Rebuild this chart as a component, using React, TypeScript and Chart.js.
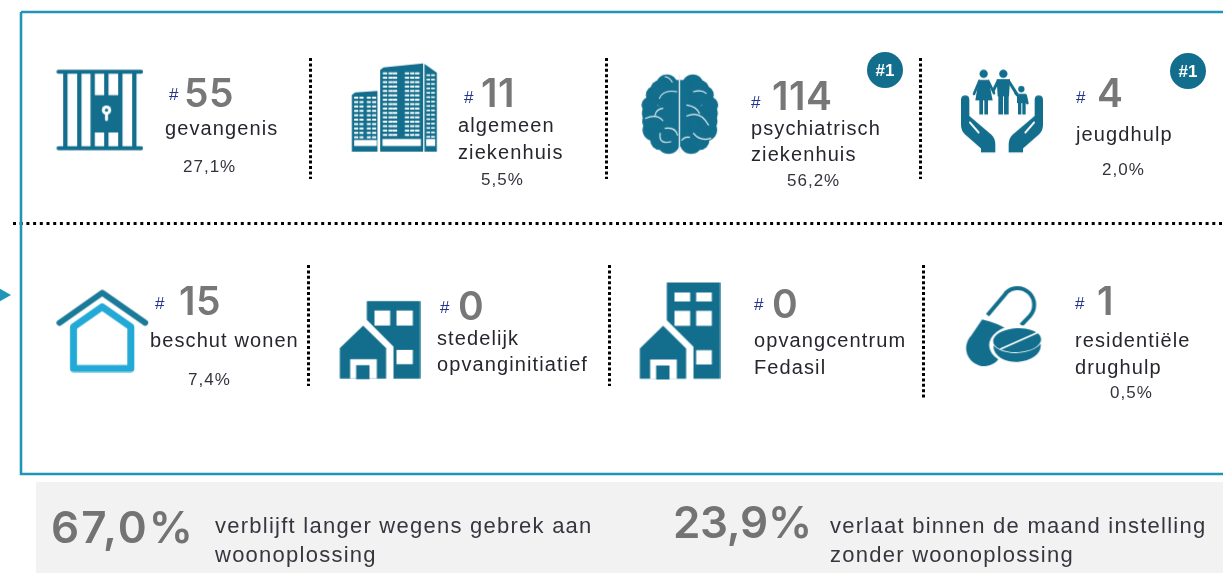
import React, { useEffect, useRef } from "react";
import { Chart, registerables } from "chart.js";

Chart.register(...registerables);

// ---- data ----
const categories: string[][] = [
  ["gevangenis"],
  ["algemeen", "ziekenhuis"],
  ["psychiatrisch", "ziekenhuis"],
  ["jeugdhulp"],
  ["beschut wonen"],
  ["stedelijk", "opvanginitiatief"],
  ["opvangcentrum", "Fedasil"],
  ["residentiële", "drughulp"],
];
const counts = [55, 11, 114, 4, 15, 0, 0, 1];
const shares = ["27,1%", "5,5%", "56,2%", "2,0%", "7,4%", "", "", "0,5%"];
const rankBadge = "#1";
const summaryValues = ["67,0%", "23,9%"];
const summaryTexts: string[][] = [
  ["verblijft langer wegens gebrek aan", "woonoplossing"],
  ["verlaat binnen de maand instelling", "zonder woonoplossing"],
];

// ---- layout, kept apart from the data ----
const hashX = [169, 464, 751, 1076, 155, 440, 754, 1075];
const hashY = [100, 103, 108, 103, 309, 313, 310, 309];
const numX = [184, 481, 772, 1097, 179, 458, 772, 1097];
const numY = [107, 107, 110, 107, 315, 320, 318, 315];
const labelX = [165, 458, 751, 1076, 150, 437, 754, 1075];
const labelY = [135, 132, 135, 141, 347, 345, 347, 347];
const labelGap = [0, 27, 26, 0, 0, 26, 27, 27];
const shareX = [183, 481, 787, 1102, 188, 0, 0, 1110];
const shareY = [172, 185, 186, 175, 385, 0, 0, 398];
const badgePos = [{ x: 885, y: 70 }, { x: 1188, y: 71 }];
const summaryValueX = [51, 673];
const summaryValueY = [543, 538];
const summaryValueSpacing = [2, -0.3];
const summaryTextX = [215, 830];
const dotted = [
  [[13, 223.5], [1223, 223.5]],
  [[310.5, 58], [310.5, 179]],
  [[606.5, 58], [606.5, 179]],
  [[920.5, 58], [920.5, 179]],
  [[308.5, 265], [308.5, 386]],
  [[609.5, 265], [609.5, 386]],
  [[923.5, 265], [923.5, 400]],
];
const frame = [[21, 12], [1240, 12], [1240, 474], [21, 474], [21, 12]];

const TEAL = "#126e8c";

// icons are painted in the coordinates of a 3x enlargement of their region
type Painter = (c: CanvasRenderingContext2D) => void;
function line(c: CanvasRenderingContext2D, pts: number[][], w: number, color: string, close = false) {
  c.beginPath();
  pts.forEach((p, i) => (i ? c.lineTo(p[0], p[1]) : c.moveTo(p[0], p[1])));
  if (close) c.closePath();
  c.lineWidth = w;
  c.strokeStyle = color;
  c.lineCap = "round";
  c.lineJoin = "round";
  c.stroke();
}
function poly(c: CanvasRenderingContext2D, pts: number[][], color: string) {
  c.beginPath();
  pts.forEach((p, i) => (i ? c.lineTo(p[0], p[1]) : c.moveTo(p[0], p[1])));
  c.closePath();
  c.fillStyle = color;
  c.fill();
}
function disc(c: CanvasRenderingContext2D, x: number, y: number, r: number, color: string) {
  c.beginPath();
  c.arc(x, y, r, 0, Math.PI * 2);
  c.fillStyle = color;
  c.fill();
}
function curve(c: CanvasRenderingContext2D, a: number[], b: number[], d: number[], w = 3.5) {
  c.beginPath();
  c.moveTo(a[0], a[1]);
  c.quadraticCurveTo(b[0], b[1], d[0], d[1]);
  c.lineWidth = w;
  c.lineCap = "round";
  c.strokeStyle = "#e8f1f4";
  c.stroke();
}

const prison: Painter = (c) => {
  c.fillStyle = TEAL;
  [189, 231, 271, 312, 354, 396].forEach((x) => c.fillRect(x, 215, 13, 229));
  c.fillRect(277, 285, 83, 112);
  line(c, [[175, 215], [423, 215]], 12, TEAL);
  line(c, [[175, 444], [423, 444]], 12, TEAL);
  disc(c, 319, 330, 14, "#fff");
  line(c, [[319, 335], [319, 358]], 9, "#fff");
  disc(c, 319, 330, 5, TEAL);
};

const building: Painter = (c) => {
  poly(c, [[95, 165], [105, 157], [172, 153], [172, 335], [95, 335]], TEAL);
  poly(c, [[180, 90], [190, 82], [309, 70], [309, 335], [180, 335]], TEAL);
  poly(c, [[313, 72], [350, 98], [350, 335], [313, 335]], TEAL);
  c.fillStyle = "#fff";
  for (let y = 97; y < 290; y += 13.2) {
    [188, 205, 218, 254, 270, 285].forEach((x) => c.fillRect(x, y, 13, 6));
    [319, 333].forEach((x) => c.fillRect(x, y + 6, 11, 5));
  }
  for (let y = 170; y < 290; y += 13.2) {
    [102, 118, 140, 156].forEach((x) => c.fillRect(x, y, 12, 6));
  }
  c.fillRect(187, 297, 115, 21);
  c.fillRect(102, 300, 68, 18);
  c.fillRect(318, 297, 27, 21);
};

const brain: Painter = (c) => {
  const blobs = [
    [140, 165, 32], [105, 195, 28], [95, 250, 30], [100, 300, 33], [145, 338, 34], [150, 250, 40],
    [135, 205, 30], [150, 295, 35], [160, 190, 25], [160, 330, 25], [120, 180, 30], [88, 225, 24],
    [92, 275, 26], [120, 330, 30],
  ];
  blobs.forEach(([x, y, r]) => {
    disc(c, x, y, r, TEAL);
    disc(c, 358 - x, y, r, TEAL);
  });
  c.fillStyle = TEAL;
  c.fillRect(150, 150, 58, 200);
  line(c, [[178, 135], [178, 368]], 4, "#e8f1f4");
  curve(c, [135, 140], [148, 142], [156, 156]);
  curve(c, [118, 205], [128, 178], [170, 185]);
  curve(c, [76, 265], [110, 250], [128, 272]);
  curve(c, [105, 255], [108, 238], [128, 235]);
  curve(c, [135, 295], [165, 290], [172, 315]);
  curve(c, [120, 310], [115, 345], [152, 335]);
  curve(c, [185, 330], [195, 318], [208, 322]);
  curve(c, [220, 185], [245, 178], [258, 190]);
  curve(c, [200, 225], [230, 230], [238, 250]);
  curve(c, [200, 258], [240, 240], [265, 285]);
  curve(c, [220, 310], [240, 335], [272, 325]);
};

const family: Painter = (c) => {
  disc(c, 221, 132, 12.5, TEAL);
  poly(c, [[206, 150], [236, 150], [248, 212], [196, 212]], TEAL);
  c.fillStyle = TEAL;
  c.fillRect(208, 210, 11, 44);
  c.fillRect(223, 210, 11, 44);
  line(c, [[208, 154], [192, 192]], 8, TEAL);
  line(c, [[235, 154], [252, 190]], 8, TEAL);
  disc(c, 280, 132, 12.5, TEAL);
  poly(c, [[260, 148], [300, 148], [297, 200], [263, 200]], TEAL);
  c.fillRect(265, 198, 14, 56);
  c.fillRect(282, 198, 14, 56);
  line(c, [[264, 154], [250, 182]], 9, TEAL);
  line(c, [[296, 154], [322, 195]], 9, TEAL);
  disc(c, 334, 178, 9.5, TEAL);
  c.fillRect(321, 192, 27, 28);
  c.fillRect(324, 218, 10, 36);
  c.fillRect(337, 218, 10, 36);
  line(c, [[322, 196], [316, 190]], 7, TEAL);
  line(c, [[347, 197], [352, 220]], 8, TEAL);
  const hand = () => {
    c.beginPath();
    c.moveTo(153, 210);
    c.quadraticCurveTo(153, 197, 166, 197);
    c.quadraticCurveTo(178, 197, 178, 210);
    c.lineTo(178, 258);
    c.lineTo(245, 315);
    c.quadraticCurveTo(256, 325, 256, 345);
    c.lineTo(256, 368);
    c.lineTo(213, 368);
    c.lineTo(213, 356);
    c.lineTo(165, 314);
    c.quadraticCurveTo(153, 302, 153, 285);
    c.closePath();
    c.fillStyle = TEAL;
    c.fill();
    line(c, [[180, 278], [206, 308]], 6, "#fff");
  };
  hand();
  c.save();
  c.translate(552, 0);
  c.scale(-1, 1);
  hand();
  c.restore();
};

const house: Painter = (c) => {
  line(c, [[220, 200], [306, 140], [392, 200], [392, 325], [220, 325]], 21, "#22a9d6", true);
  line(c, [[178, 188], [306, 98], [435, 188]], 18, "#1b7a98");
};

const cityBlock = (top: number, wins: number[][]): Painter => (c) => {
  poly(c, [[140, top], [300, top], [300, 356], [220, 356], [220, 260], [140, 180]], TEAL);
  poly(c, [[59, 265], [129, 197], [198, 265], [198, 356], [59, 356]], TEAL);
  c.fillStyle = "#fff";
  wins.forEach(([x, y, w, h]) => c.fillRect(x, y, w, h));
  c.fillRect(90, 298, 80, 58);
  c.fillStyle = TEAL;
  c.fillRect(108, 316, 40, 42);
};
const urban = cityBlock(124, [[163, 152, 47, 45], [229, 152, 49, 45], [229, 270, 49, 43]]);
const shelter = cityBlock(67, [[163, 97, 47, 27], [228, 97, 47, 27], [163, 152, 47, 45], [228, 152, 47, 45], [228, 270, 47, 43]]);

const pills: Painter = (c) => {
  // upper half of the capsule, outlined
  c.beginPath();
  c.moveTo(232, 165);
  c.lineTo(287, 100);
  c.arc(322, 134, 50, -2.35, 0.72);
  c.lineTo(333, 195);
  c.lineWidth = 12;
  c.lineCap = "butt";
  c.strokeStyle = TEAL;
  c.stroke();
  // lower half of the capsule, filled
  c.beginPath();
  c.moveTo(216, 178);
  c.quadraticCurveTo(262, 188, 298, 212);
  c.lineTo(262, 296);
  c.arc(222, 264, 54, 0.65, Math.PI + 0.75);
  c.closePath();
  c.fillStyle = TEAL;
  c.fill();
  // tablet
  c.beginPath();
  c.ellipse(321, 253, 84, 58, -0.05, 0, Math.PI * 2);
  c.fillStyle = "#fff";
  c.fill();
  c.beginPath();
  c.ellipse(321, 258, 71, 47, -0.05, 0, Math.PI * 2);
  c.fillStyle = TEAL;
  c.fill();
  c.beginPath();
  c.ellipse(321, 240, 72, 36, -0.05, 0, Math.PI * 2);
  c.lineWidth = 5;
  c.strokeStyle = "#fff";
  c.stroke();
  c.fillStyle = TEAL;
  c.fill();
  line(c, [[272, 266], [380, 218]], 5, "#fff");
};

// painter, its box in enlarged coordinates, and the origin of the enlarged region
const iconDefs: { paint: Painter; box: number[]; origin: number[] }[] = [
  { paint: prison, box: [165, 205, 430, 455], origin: [0, 0] },
  { paint: building, box: [90, 65, 355, 338], origin: [320, 40] },
  { paint: brain, box: [60, 125, 298, 380], origin: [620, 30] },
  { paint: family, box: [150, 118, 402, 372], origin: [910, 30] },
  { paint: house, box: [165, 85, 448, 338], origin: [0, 260] },
  { paint: urban, box: [55, 120, 302, 362], origin: [320, 260] },
  { paint: shelter, box: [55, 64, 302, 362], origin: [620, 260] },
  { paint: pills, box: [160, 75, 398, 325], origin: [910, 260] },
];
function iconCanvas(d: (typeof iconDefs)[number]) {
  const [x0, y0, x1, y1] = d.box;
  const cv = document.createElement("canvas");
  cv.width = Math.round((x1 - x0) / 3);
  cv.height = Math.round((y1 - y0) / 3);
  const c = cv.getContext("2d")!;
  c.scale(1 / 3, 1 / 3);
  c.translate(-x0, -y0);
  d.paint(c);
  return cv;
}

const LABEL_FONT = '"Liberation Sans", Arial, sans-serif';
const NUM_FONT = 'Inter, "Noto Sans", sans-serif';

const textPlugin = {
  id: "infographicText",
  beforeDatasetsDraw(chart: any) {
    const { ctx, scales } = chart;
    const { x, y } = scales;
    ctx.save();
    ctx.fillStyle = "#f2f2f2";
    ctx.fillRect(x.getPixelForValue(36), y.getPixelForValue(482), x.getPixelForValue(1223) - x.getPixelForValue(36), y.getPixelForValue(573) - y.getPixelForValue(482));
    ctx.restore();
  },
  afterDatasetsDraw(chart: any) {
    const { ctx, scales } = chart;
    const px = (v: number) => scales.x.getPixelForValue(v);
    const py = (v: number) => scales.y.getPixelForValue(v);
    const put = (s: string, xx: number, yy: number, font: string, color: string, sp: number, align: CanvasTextAlign = "left") => {
      ctx.font = font;
      ctx.fillStyle = color;
      ctx.textAlign = align;
      ctx.textBaseline = "alphabetic";
      (ctx as any).letterSpacing = sp + "px";
      ctx.fillText(s, px(xx), py(yy));
    };
    ctx.save();
    counts.forEach((n, i) => {
      put("#", hashX[i], hashY[i], `17px ${LABEL_FONT}`, "#24348f", 0);
      put(String(n), numX[i], numY[i], `600 39px ${NUM_FONT}`, "#777777", 0.5);
      categories[i].forEach((t, k) => put(t, labelX[i], labelY[i] + k * labelGap[i], `20px ${LABEL_FONT}`, "#26262e", 1.1));
      if (shares[i]) put(shares[i], shareX[i], shareY[i], `17px ${LABEL_FONT}`, "#33333d", 1);
    });
    badgePos.forEach((b) => put(rankBadge, b.x, b.y + 6, `bold 17px ${LABEL_FONT}`, "#ffffff", 0, "center"));
    summaryValues.forEach((s, i) => put(s, summaryValueX[i], summaryValueY[i], `600 44px ${NUM_FONT}`, "#737373", summaryValueSpacing[i]));
    summaryTexts.forEach((ls, i) => ls.forEach((t, k) => put(t, summaryTextX[i], 533 + k * 29, `22px ${LABEL_FONT}`, "#36363e", 1.25)));
    ctx.restore();
  },
};

export default function App() {
  const ref = useRef<HTMLCanvasElement>(null);
  useEffect(() => {
    const icons = iconDefs.map(iconCanvas);
    const iconPoints = iconDefs.map((d) => ({
      x: d.origin[0] + (d.box[0] + d.box[2]) / 6,
      y: d.origin[1] + (d.box[1] + d.box[3]) / 6,
    }));
    const toXY = (p: number[]) => ({ x: p[0], y: p[1] });
    const chart = new Chart(ref.current!, {
      type: "scatter",
      data: {
        datasets: [
          { label: "frame", data: frame.map(toXY), showLine: true, borderColor: "#2095b8", borderWidth: 2.6, pointRadius: 0, clip: false },
          ...dotted.map((seg, i) => ({
            label: "divider " + i,
            data: seg.map(toXY),
            showLine: true,
            borderColor: "#000000",
            borderWidth: 3,
            borderDash: i === 0 ? [3, 3.7] : [3, 2.4],
            pointRadius: 0,
          })),
          { label: "marker", data: [{ x: 3, y: 295 }], pointStyle: "triangle", rotation: 90, pointRadius: 8, backgroundColor: "#2095b8", borderWidth: 0, clip: false },
          { label: "rank", data: badgePos, pointRadius: 18, backgroundColor: TEAL, borderWidth: 0 },
          { label: "settings", data: iconPoints, pointStyle: icons, pointRadius: 10 },
        ] as any,
      },
      options: {
        responsive: false,
        animation: false,
        events: [],
        layout: { padding: 0, autoPadding: false },
        plugins: { legend: { display: false }, tooltip: { enabled: false }, title: { display: false } },
        scales: {
          x: { type: "linear", display: false, min: 0, max: 1223 },
          y: { type: "linear", display: false, min: 0, max: 573, reverse: true },
        },
      },
      plugins: [textPlugin],
    });
    return () => chart.destroy();
  }, []);
  return (
    <div style={{ position: "fixed", left: 0, top: 0, width: 1223, height: 573, background: "#fff" }}>
      <canvas ref={ref} width={1223} height={573} style={{ display: "block" }} />
    </div>
  );
}
